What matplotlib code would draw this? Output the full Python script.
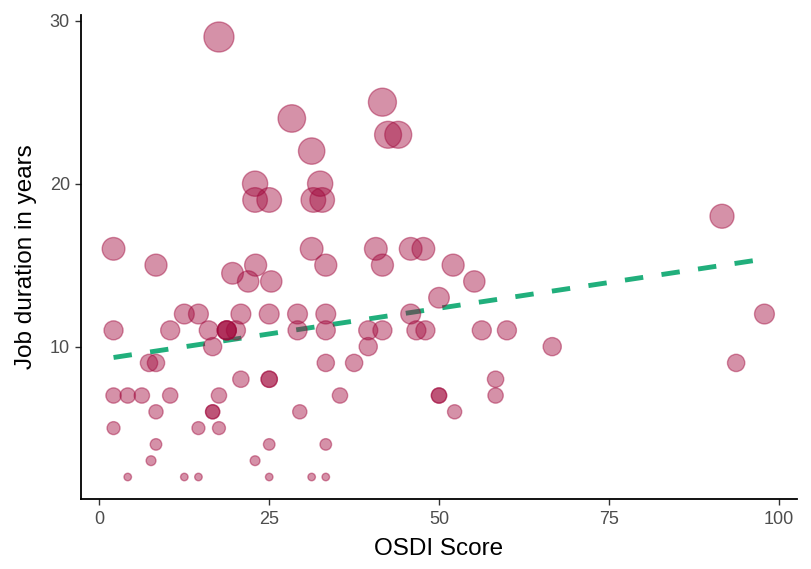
import numpy as np
import matplotlib
matplotlib.use("Agg")
import matplotlib.pyplot as plt

plt.rcParams['font.family'] = ['Liberation Sans', 'DejaVu Sans']

# OSDI score and job duration (years)
osdi = [17.6,
        41.67,
        28.33,
        42.5, 44.0,
        31.25,
        22.92, 32.5,
        22.92, 25.0, 31.5, 32.8,
        91.67,
        2.08, 31.25, 40.7, 45.83, 47.7,
        8.33, 23.0, 33.33, 41.67, 52.08,
        19.6,
        21.9, 25.3, 55.2,
        50.0,
        12.5, 14.58, 20.83, 25.0, 29.17, 33.33, 45.83, 97.92,
        2.08, 10.42, 16.1, 18.75, 18.75, 18.75, 20.1, 29.17, 33.33, 39.58, 41.67, 46.67, 48.0, 56.3, 60.0,
        16.67, 39.58, 66.67,
        7.3, 8.33, 33.33, 37.5, 93.75,
        20.83, 25.0, 25.0, 58.33,
        2.08, 4.17, 6.25, 10.42, 17.6, 35.42, 50.0, 50.0, 58.33,
        8.33, 16.67, 16.67, 29.5, 52.3,
        2.08, 14.58, 17.6,
        8.33, 25.0, 33.33,
        7.6, 22.92,
        4.17, 12.5, 14.58, 25.0, 31.25, 33.33]
years = [29,
         25,
         24,
         23, 23,
         22,
         20, 20,
         19, 19, 19, 19,
         18,
         16, 16, 16, 16, 16,
         15, 15, 15, 15, 15,
         14.5,
         14, 14, 14,
         13,
         12, 12, 12, 12, 12, 12, 12, 12,
         11, 11, 11, 11, 11, 11, 11, 11, 11, 11, 11, 11, 11, 11, 11,
         10, 10, 10,
         9, 9, 9, 9, 9,
         8, 8, 8, 8,
         7, 7, 7, 7, 7, 7, 7, 7, 7,
         6, 6, 6, 6, 6,
         5, 5, 5,
         4, 4, 4,
         3, 3,
         2, 2, 2, 2, 2, 2]

x_ticks = [0, 25, 50, 75, 100]
y_ticks = [10, 20, 30]
x_label = "OSDI Score"
y_label = "Job duration in years"

x = np.array(osdi, dtype=float)
y = np.array(years, dtype=float)

DPI = 100
fig = plt.figure(figsize=(8.12, 5.69), dpi=DPI)
W, H = 812, 569
ax = fig.add_axes([81 / W, 1 - 499 / H, (797 - 81) / W, (499 - 15) / H])

# bubble size: area scaled linearly with years (ggplot-like scale_size)
ymin, ymax = y.min(), y.max()
size = np.sqrt(1 + (y - ymin) / (ymax - ymin) * 35)
d_px = 4.5 * size + 3.0
d_pt = d_px * 72 / DPI
s = d_pt ** 2

# linear regression line
slope, intercept = np.polyfit(x, y, 1)
xl = np.array([x.min(), x.max()])
ax.plot(xl, intercept + slope * xl, color="#21AF7C", lw=3.5,
        linestyle=(0, (3.8, 3.8)), dash_capstyle="butt", zorder=1)

ax.scatter(x, y, s=s, facecolor="#A0063A", edgecolor="#A0063A",
           alpha=0.44, linewidths=1.0, zorder=2)

xr = x.max() - x.min()
yr = ymax - ymin
ax.set_xlim(x.min() - 0.05 * xr, x.max() + 0.05 * xr)
ax.set_ylim(ymin - 0.05 * yr, ymax + 0.05 * yr)

ax.set_xticks(x_ticks)
ax.set_yticks(y_ticks)
for sp in ["top", "right"]:
    ax.spines[sp].set_visible(False)
for sp in ["left", "bottom"]:
    ax.spines[sp].set_linewidth(1.3)
    ax.spines[sp].set_color("black")
ax.tick_params(axis="both", length=4, width=1.0, color="#333333",
               labelsize=13, labelcolor="#4D4D4D")
ax.tick_params(axis="x", pad=5)
ax.tick_params(axis="y", pad=4)
ax.set_xlabel(x_label, fontsize=17.5, color="black", labelpad=7)
ax.set_ylabel(y_label, fontsize=17.5, color="black", labelpad=9)

fig.savefig("out.png", dpi=DPI, facecolor="white")
